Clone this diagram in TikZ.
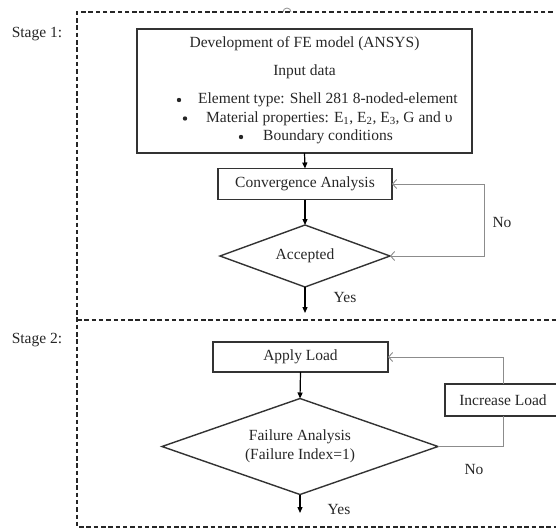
\documentclass[tikz,border=0pt]{standalone}
\usepackage{fontspec}
\setmainfont{Liberation Serif}
\usetikzlibrary{arrows.meta,shapes.geometric}
\definecolor{ink}{HTML}{262626}
\definecolor{loopgray}{HTML}{8C8C8C}
\begin{document}
\begin{tikzpicture}[x=1pt,y=-1pt,
  every node/.style={text=ink, font=\fontsize{15.5}{19}\selectfont},
  frame/.style={draw=black!85, line width=1.3pt, dash pattern=on 4.5pt off 2.8pt},
  box/.style={draw=black!80, line width=1.8pt, rectangle, inner sep=0pt, outer sep=0pt},
  decision/.style={draw=black!80, line width=1.4pt, diamond, inner sep=0pt, outer sep=0pt},
  flow/.style={draw=black, line width=1.2pt, -{Triangle[length=6pt,width=5pt]}},
  loopline/.style={draw=loopgray, line width=0.9pt},
  looparrow/.style={loopline, -{Straight Barb[length=4pt,width=9pt]}},
  lbl/.style={inner sep=0pt},
  dot/.style={circle, fill=ink, inner sep=0pt, minimum size=4.4pt}
]
\useasboundingbox (0,0) rectangle (556,528);

% dashed stage frame
\draw[frame] (560,12) -- (77,12) -- (77,527) -- (560,527);
\draw[frame] (77,320) -- (560,320);
\draw[loopgray, line width=0.8pt] (283,12) arc (180:360:4);

\node[lbl] (s1) at (37,34) {Stage 1:};
\node[lbl] (s2) at (37,340) {Stage 2:};

% Stage 1
\node[box, minimum width=335pt, minimum height=124pt] (fe) at (304.5,91) {};
\node[lbl] (t1) at (304.5,44) {Development of FE model (ANSYS)};
\node[lbl] (t2) at (304.5,72) {Input data};
\node[dot] (b1) at (179,100) {};
\node[lbl, anchor=west] (t3) at (198,100) {Element type: Shell 281 8-noded-element};
\node[dot] (b2) at (185,118.5) {};
\node[lbl, anchor=west] (t4) at (206,118.5) {Material properties: E\textsubscript{1}, E\textsubscript{2}, E\textsubscript{3}, G and υ};
\node[dot] (b3) at (241,137) {};
\node[lbl, anchor=west] (t5) at (263,137) {Boundary conditions};

\node[box, minimum width=174pt, minimum height=31pt] (conv) at (305,184) {Convergence Analysis};
\node[decision, minimum width=170pt, minimum height=62pt, aspect=2.74] (acc) at (305,256) {Accepted};
\coordinate (yes1) at (305,313);
\node[lbl] (y1) at (345,297) {Yes};

\draw[flow] (fe.south) -- (conv.north);
\draw[flow] (conv.south) -- (acc.north);
\draw[flow] (acc.south) -- (yes1);

\coordinate (r1) at (484,220);
\draw[looparrow] (r1) |- (conv.east);
\draw[looparrow] (r1) |- (acc.east);
\node[lbl] (no1) at (502,222) {No};

% Stage 2
\node[box, minimum width=175pt, minimum height=30pt] (apply) at (300.5,357) {Apply Load};
\node[decision, minimum width=276pt, minimum height=96pt, aspect=2.875, align=center] (fail) at (300,446.5) {Failure Analysis\\(Failure Index=1)};
\node[box, minimum width=116pt, minimum height=32pt] (inc) at (503,400) {Increase Load};
\coordinate (yes2) at (300,513);
\node[lbl] (y2) at (339,509) {Yes};
\node[lbl] (no2) at (474,469) {No};

\draw[flow] (apply.south) -- (fail.north);
\draw[flow] (fail.south) -- (yes2);
\draw[loopline] (fail.east) -| (inc.south);
\draw[looparrow] (inc.north) |- (apply.east);
\end{tikzpicture}
\end{document}
